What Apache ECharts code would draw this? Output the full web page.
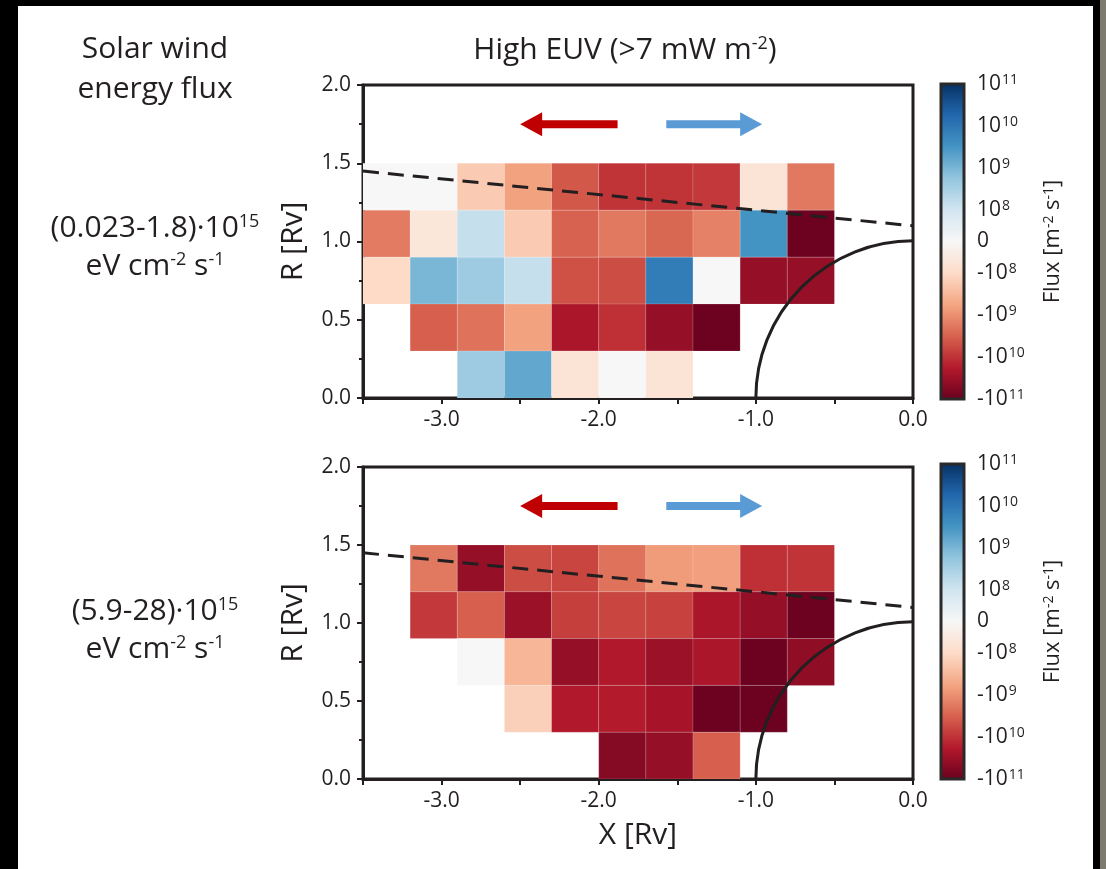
<!DOCTYPE html>
<html><head><meta charset="utf-8">
<script src="https://cdn.jsdelivr.net/npm/echarts@6/dist/echarts.min.js"></script>
<style>html,body{margin:0;padding:0;background:#000}#c{width:1106px;height:869px}</style>
</head><body><div id="c"></div>
<script>
// ---------------- DATA ----------------
const colX0 = [-3.5, -3.2, -2.9, -2.6, -2.3, -2.0, -1.7, -1.4, -1.1, -0.8]; // left edge of each bin [Rv]
const rowY0 = [1.2, 0.9, 0.6, 0.3, 0.0]; // bottom edge of each bin row, listed top to bottom [Rv]
const binSize = 0.3;

// Flux [m^-2 s^-1] per bin, rows top->bottom, columns left->right (null = no data)
const topFlux = [
  [0, 0, -1.7e8, -6e8, -3.8e9, -9e9, -9e9, -8e9, -7e7, -1.7e9],
  [-1.6e9, -6e7, 1.4e8, -1.7e8, -3e9, -1.7e9, -2.6e9, -1.4e9, 3.2e9, -9e10],
  [-1e8, 9.4e8, 4e8, 1.4e8, -4.5e9, -5e9, 7.5e9, 0, -3.5e10, -3.5e10],
  [null, -3.2e9, -2e9, -6e8, -2.1e10, -1e10, -3.5e10, -9e10, null, null],
  [null, null, 4e8, 1.6e9, -7e7, 0, -7e7, null, null, null]
];
const bottomFlux = [
  [null, -1.7e9, -3.5e10, -5e9, -6e9, -2e9, -7e8, -6.5e8, -1e10, -9e9],
  [null, -8e9, -3.2e9, -3e10, -7e9, -6e9, -6.5e9, -2.1e10, -3.5e10, -9e10],
  [null, null, 0, -3.3e8, -3.5e10, -1.8e10, -3e10, -2.1e10, -9e10, -4e10],
  [null, null, null, -1.4e8, -1.8e10, -1.7e10, -2.3e10, -9e10, -9e10, null],
  [null, null, null, null, null, -5e10, -3.5e10, -3.2e9, null, null]
];

const xTickLabels = ['-3.0', '-2.0', '-1.0', '0.0'];
const yTickLabels = ['0.0', '0.5', '1.0', '1.5', '2.0'];
const cbarTickValues = [-1e11, -1e10, -1e9, -1e8, 0, 1e8, 1e9, 1e10, 1e11];
const cbarTickLabels = ['{b|-10}{s|11}', '{b|-10}{s|10}', '{b|-10}{s|9}', '{b|-10}{s|8}', '{b|0}',
                        '{b|10}{s|8}', '{b|10}{s|9}', '{b|10}{s|10}', '{b|10}{s|11}'];
const boundaryLine = [[-3.5, 1.45], [0.0, 1.1]];   // dashed line
const planet = [[0.0, 0.0, 1.0]];                   // centre x, centre y, radius
const arrows = [
  { from: -1.88, to: -2.50, y: 1.75, color: '#c00000' },
  { from: -1.57, to: -0.96, y: 1.75, color: '#5b9bd5' }
];
const panelLabels = [
  ['{t|(0.023-1.8)·10}{s|15}', '{t|eV cm}{s|-2}{t| s}{s|-1}'],
  ['{t|(5.9-28)·10}{s|15}', '{t|eV cm}{s|-2}{t| s}{s|-1}']
];
// ---------------------------------------

const FONT = 'Open Sans';
const INK = '#231f20';
const RdBu = ['#67001f', '#b2182b', '#d6604d', '#f4a582', '#fddbc7', '#f7f7f7',
              '#d1e5f0', '#92c5de', '#4393c3', '#2166ac', '#053061'];
const LIN = 1e8, LINC = 0.75, CMAX = 3.75;
function symlog(v) {
  const a = Math.abs(v);
  if (a <= LIN) return LINC * v / LIN;
  return Math.sign(v) * (Math.log10(a) - Math.log10(LIN) + LINC);
}

const chart = echarts.init(document.getElementById('c'), null, { renderer: 'canvas' });

const panels = [
  { top: 85, height: 313, cbTop: 84, cbHeight: 315, flux: topFlux, xName: '' },
  { top: 467, height: 312, cbTop: 464, cbHeight: 315, flux: bottomFlux, xName: 'X [Rv]' }
];

const grids = [], xAxes = [], yAxes = [], series = [];
const supRich = {
  b: { fontSize: 21, fontFamily: FONT, color: INK, fontWeight: 'normal' },
  s: { fontSize: 14, fontFamily: FONT, color: INK, fontWeight: 'normal', verticalAlign: 'top', padding: [0, 0, 0, 1] }
};

panels.forEach((p, i) => {
  const gi = grids.length;
  grids.push({ left: 363, top: p.top, width: 550, height: p.height, show: true,
               borderColor: INK, borderWidth: 3, backgroundColor: '#fff' });
  xAxes.push({
    gridIndex: gi, type: 'value', min: -3.5, max: 0, interval: 0.5,
    name: p.xName, nameLocation: 'middle', nameGap: 41,
    nameTextStyle: { fontSize: 30, fontFamily: FONT, color: INK },
    axisLine: { show: true, onZero: false, lineStyle: { color: INK, width: 3 } },
    axisTick: { show: true, length: 6, lineStyle: { color: INK, width: 2 } },
    axisLabel: { color: INK, fontSize: 21, fontFamily: FONT, margin: 12,
      formatter: v => { const s = v.toFixed(1); return xTickLabels.includes(s) ? s : ''; } },
    splitLine: { show: false }
  });
  yAxes.push({
    gridIndex: gi, type: 'value', min: 0, max: 2, interval: 0.5,
    name: 'R [Rv]', nameLocation: 'middle', nameGap: 55,
    nameTextStyle: { fontSize: 30, fontFamily: FONT, color: INK },
    axisLine: { show: true, onZero: false, lineStyle: { color: INK, width: 3 } },
    axisTick: { show: true, length: 6, lineStyle: { color: INK, width: 2 } },
    minorTick: { show: true, splitNumber: 2, length: 4, lineStyle: { color: INK, width: 2 } },
    axisLabel: { color: INK, fontSize: 21, fontFamily: FONT, margin: 12,
      formatter: v => { const s = v.toFixed(1); return yTickLabels.includes(s) ? s : ''; } },
    splitLine: { show: false }
  });

  // cells
  const data = [];
  p.flux.forEach((row, r) => row.forEach((v, c) => {
    if (v !== null) data.push([colX0[c], rowY0[r], v, symlog(v)]);
  }));
  series.push({
    type: 'custom', name: 'cells' + i, xAxisIndex: gi, yAxisIndex: gi, data, z: 2,
    encode: { x: 0, y: 1 }, clip: true,
    renderItem: (params, api) => {
      const p0 = api.coord([api.value(0), api.value(1) + binSize]);
      const p1 = api.coord([api.value(0) + binSize, api.value(1)]);
      return { type: 'rect', shape: { x: p0[0], y: p0[1], width: p1[0] - p0[0], height: p1[1] - p0[1] },
               style: { fill: api.visual('color'), stroke: 'rgba(255,255,255,0.15)', lineWidth: 1 } };
    }
  });
  // planet arc
  series.push({
    type: 'custom', xAxisIndex: gi, yAxisIndex: gi, data: planet, z: 4, silent: true, clip: true,
    renderItem: (params, api) => {
      const c = api.coord([api.value(0), api.value(1)]);
      const e = api.coord([api.value(0) - api.value(2), api.value(1)]);
      const r = c[0] - e[0];
      return { type: 'arc', shape: { cx: c[0], cy: c[1], r, startAngle: Math.PI, endAngle: Math.PI * 1.5, clockwise: true },
               style: { stroke: INK, lineWidth: 3, fill: null } };
    }
  });
  // dashed boundary
  series.push({
    type: 'line', xAxisIndex: gi, yAxisIndex: gi, data: boundaryLine, symbol: 'none', z: 5, silent: true,
    lineStyle: { color: INK, width: 3, type: [16, 9] }
  });
  // arrows
  series.push({
    type: 'custom', xAxisIndex: gi, yAxisIndex: gi, z: 6, silent: true,
    data: arrows.map(a => ({ value: [a.from, a.to, a.y], itemStyle: { color: a.color } })),
    renderItem: (params, api) => {
      const t = api.coord([api.value(0), api.value(2)]);
      const h = api.coord([api.value(1), api.value(2)]);
      const d = Math.sign(h[0] - t[0]);
      const hb = h[0] - d * 22, y = t[1];
      return { type: 'polygon', shape: { points: [[t[0], y - 4], [hb, y - 4], [hb, y - 12], [h[0], y],
               [hb, y + 12], [hb, y + 4], [t[0], y + 4]] }, style: { fill: api.visual('color') } };
    }
  });

  // colorbar
  const ci = grids.length;
  grids.push({ left: 941, top: p.cbTop, width: 23, height: p.cbHeight });
  xAxes.push({ gridIndex: ci, type: 'value', min: 0, max: 1, show: false });
  const minor = [];
  [-1, 1].forEach(sg => { for (let k = 8; k <= 10; k++) for (let m = 2; m <= 9; m++) minor.push(symlog(sg * m * Math.pow(10, k))); });
  yAxes.push({
    gridIndex: ci, type: 'value', min: -CMAX, max: CMAX, position: 'right',
    name: '{n|Flux [m}{s|-2}{n| s}{s|-1}{n|]}', nameLocation: 'middle', nameGap: 78, nameRotate: 90,
    nameTextStyle: { rich: { n: { fontSize: 22, fontFamily: FONT, color: INK },
                             s: { fontSize: 14, fontFamily: FONT, color: INK, verticalAlign: 'top' } } },
    axisLine: { show: false },
    axisTick: { show: true, inside: false, length: 4, customValues: minor.concat(cbarTickValues.map(symlog)),
                lineStyle: { color: '#555', width: 1 } },
    axisLabel: { show: true, margin: 13, customValues: cbarTickValues.map(symlog),
      formatter: v => { const idx = cbarTickValues.map(symlog).findIndex(c => Math.abs(c - v) < 1e-6);
                        return idx >= 0 ? cbarTickLabels[idx] : ''; },
      rich: supRich },
    splitLine: { show: false }
  });
  series.push({
    type: 'custom', xAxisIndex: ci, yAxisIndex: ci, data: [[0, -CMAX, 1, CMAX]], silent: true, z: 3,
    renderItem: (params, api) => {
      const a = api.coord([api.value(0), api.value(3)]);
      const b = api.coord([api.value(2), api.value(1)]);
      return { type: 'rect', shape: { x: a[0], y: a[1], width: b[0] - a[0], height: b[1] - a[1] },
               style: { fill: new echarts.graphic.LinearGradient(0, 0, 0, 1,
                          RdBu.slice().reverse().map((c, k) => ({ offset: k / (RdBu.length - 1), color: c }))),
                        stroke: '#2a2a2a', lineWidth: 3 } };
    }
  });
});

const textTitles = [];
const tRich = { t: { fontSize: 30, fontFamily: FONT, color: INK, fontWeight: 'normal' },
                s: { fontSize: 18, fontFamily: FONT, color: INK, fontWeight: 'normal', verticalAlign: 'top' } };
function addText(text, x, y) {
  textTitles.push({ text, left: x, top: y, padding: 0, textAlign: 'center', textVerticalAlign: 'middle',
                    textStyle: { fontWeight: 'normal', rich: tRich } });
}
addText('{t|High EUV (>7 mW m}{s|-2}{t|)}', 625, 50);
addText('{t|Solar wind}', 155, 49);
addText('{t|energy flux}', 155, 89);
addText(panelLabels[0][0], 155, 228);
addText(panelLabels[0][1], 155, 266);
addText(panelLabels[1][0], 155, 611);
addText(panelLabels[1][1], 155, 649);

chart.setOption({
  backgroundColor: '#000',
  animation: false,
  graphic: [
    { type: 'rect', shape: { x: 18, y: 6, width: 1075, height: 863 }, style: { fill: '#fff' }, z: -10 },
    { type: 'rect', shape: { x: 1100, y: 0, width: 6, height: 869 }, style: { fill: '#7d7b70' }, z: -10 }
  ],
  title: textTitles,
  grid: grids, xAxis: xAxes, yAxis: yAxes,
  visualMap: { type: 'continuous', show: false, min: -CMAX, max: CMAX, dimension: 3,
               seriesIndex: [0, 5], inRange: { color: RdBu } },
  series
});
</script></body></html>
